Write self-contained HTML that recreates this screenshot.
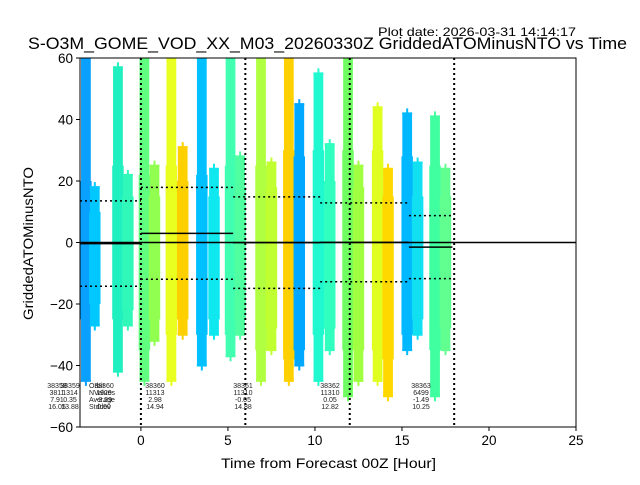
<!DOCTYPE html>
<html><head><meta charset="utf-8"><style>
body{margin:0;background:#fff}
svg text{font-family:"Liberation Sans",sans-serif}
</style></head><body>
<svg id="chart" width="640" height="480" xmlns="http://www.w3.org/2000/svg">
<rect width="640" height="480" fill="#fff"/>
<text x="378" y="36" font-size="12" textLength="198" lengthAdjust="spacingAndGlyphs">Plot date: 2026-03-31 14:14:17</text>
<text x="28" y="49" font-size="16.5" textLength="599" lengthAdjust="spacingAndGlyphs">S-O3M_GOME_VOD_XX_M03_20260330Z GriddedATOMinusNTO vs Time</text>
<g id="marks"></g>
<g id="axes"></g>
<text x="221" y="468" font-size="14" textLength="215" lengthAdjust="spacingAndGlyphs">Time from Forecast 00Z [Hour]</text>
<text transform="translate(33,320) rotate(-90)" font-size="14" textLength="153" lengthAdjust="spacingAndGlyphs">GriddedATOMinusNTO</text>
</svg>
<script>
const clusterX=[-3.16,-2.65,-1.32,-0.75,0.2,0.78,1.75,2.4,3.5,4.2,5.15,5.7,6.9,7.5,8.5,9.1,10.2,10.85,11.9,12.5,13.6,14.2,15.3,15.9,16.9,17.5];
const clusterTop=[60,18,57,22,60,25,60,31,60,24,60,28,60,26,60,45,55,32,60,25,44,24,42,26,41,24];
const clusterBottom=[-45,-27,-42,-27,-45,-32,-45,-30,-40,-30,-37,-30,-45,-35,-45,-40,-45,-35,-50,-45,-45,-50,-35,-30,-50,-35];
const clusterCoreTop=[20,10,25,15,22,15,25,20,22,15,25,18,25,18,30,28,30,20,30,18,30,15,28,15,25,15];
const clusterCoreBottom=[-25,-20,-25,-22,-35,-25,-30,-25,-30,-25,-30,-25,-35,-28,-38,-35,-30,-28,-35,-35,-35,-38,-30,-25,-35,-28];
const clusterColor=["#0aa0ff","#00c8ff","#20f0c0","#30f8b8","#60ff80","#90ff50","#e8ff20","#ffd000","#00c0ff","#10e8f0","#40ffb0","#50ffa0","#b0ff40","#c0ff30","#ffd000","#00a8ff","#20f8d0","#30ffc0","#70ff60","#a0ff40","#e0ff20","#ffd800","#00b8ff","#10e0f0","#40ffa0","#60ff90"];
const segStart=[-3.5,0,5.3,10.3,15.4];
const segEnd=[0,5.3,10.3,15.4,17.9];
const segMean=[-0.35,2.98,-0.05,0.05,-1.49];
const segStd=[13.88,14.94,14.88,12.82,10.25];
const vLines=[0,6,12,18];
const xTicks=[0,5,10,15,20,25];
const yTicks=[60,40,20,0,-20,-40,-60];
const annX=[57,70,104,155,243,330,421];
const annOrbit=["38358","38359","38360","38360","38361","38362","38363"];
const annN=["3811","1314","1929","11313","11310","11310","6499"];
const annAvg=["7.91","0.35","-2.29","2.98","-0.05","0.05","-1.49"];
const annStd=["16.05","13.88","0.00","14.94","14.88","12.82","10.25"];
const L=80,R=576,T=58,B=427,X0=-3.5,X1=25,Y0=-60,Y1=60;
const sx=v=>L+(v-X0)/(X1-X0)*(R-L);
const sy=v=>B-(v-Y0)/(Y1-Y0)*(B-T);
const NS="http://www.w3.org/2000/svg";
const marks=document.getElementById('marks');
const axes=document.getElementById('axes');
function mk(tag,attrs,parent){const e=document.createElementNS(NS,tag);for(const k in attrs)e.setAttribute(k,attrs[k]);parent.appendChild(e);return e;}
const clip=mk('clipPath',{id:'pc'},marks);mk('rect',{x:L,y:T,width:R-L,height:B-T},clip);
const g=mk('g',{'clip-path':'url(#pc)'},marks);
const hw=0.33;
clusterX.forEach((c,i)=>{
  const col=clusterColor[i];
  const o=mk('rect',{x:sx(c-hw*0.85),y:sy(clusterTop[i]),width:sx(c+hw*0.85)-sx(c-hw*0.85),height:sy(clusterBottom[i])-sy(clusterTop[i]),fill:col},g);
  
  
  const r=mk('rect',{x:sx(c-hw),y:sy(clusterCoreTop[i]),width:sx(c+hw)-sx(c-hw),height:sy(clusterCoreBottom[i])-sy(clusterCoreTop[i]),fill:col},g);
  
  
  [clusterTop[i],clusterBottom[i]].forEach(v=>{
    const p=mk('path',{d:`M${sx(c)-5},${sy(v)}h10M${sx(c)},${sy(v)-5}v10`,stroke:col,'stroke-width':2},g);
    
    
  });
});
const zl=mk('line',{x1:L,x2:R,y1:sy(0),y2:sy(0),stroke:'#000','stroke-width':1.5},g);


segStart.forEach((s,i)=>{
  const m=mk('line',{x1:sx(s),x2:sx(segEnd[i]),y1:sy(segMean[i]),y2:sy(segMean[i]),stroke:'#000','stroke-width':1.5},g);
  
  
  [1,-1].forEach(k=>{
    const v=segMean[i]+k*segStd[i];
    const d=mk('line',{x1:sx(s),x2:sx(segEnd[i]),y1:sy(v),y2:sy(v),stroke:'#000','stroke-width':1.5,'stroke-dasharray':'2,3'},g);
    
    
  });
});
vLines.forEach(v=>{
  const l=mk('line',{x1:sx(v),x2:sx(v),y1:T,y2:B,stroke:'#000','stroke-width':2,'stroke-dasharray':'2,3'},g);
  
  
});
annX.forEach((x,i)=>{
  [annOrbit[i],annN[i],annAvg[i],annStd[i]].forEach((t,j)=>{
    const tx=mk('text',{x:x,y:388+j*7,'font-size':7,'text-anchor':'middle',fill:'#222'},marks);
    tx.textContent=t;
    
    
  });
});
["Orbit","NValues","Average","Stddev"].forEach((t,j)=>{
  const tx=mk('text',{x:89,y:388+j*7,'font-size':7,fill:'#222'},marks);
  tx.textContent=t;
  
  
});
const fr=mk('rect',{x:L,y:T,width:R-L,height:B-T,fill:'none',stroke:'#000','stroke-width':1},axes);


xTicks.forEach(v=>{
  mk('line',{x1:sx(v),x2:sx(v),y1:B,y2:B+4,stroke:'#000'},axes);
  const t=mk('text',{x:sx(v),y:B+18,'font-size':13.5,'text-anchor':'middle'},axes);
  t.textContent=v;
  
  
});
yTicks.forEach(v=>{
  mk('line',{x1:L-4,x2:L,y1:sy(v),y2:sy(v),stroke:'#000'},axes);
  const t=mk('text',{x:L-7,y:sy(v)+5,'font-size':13.5,'text-anchor':'end'},axes);
  t.textContent=v<0?'\u2212'+(-v):v;
  
  
});
</script>
</body></html>
